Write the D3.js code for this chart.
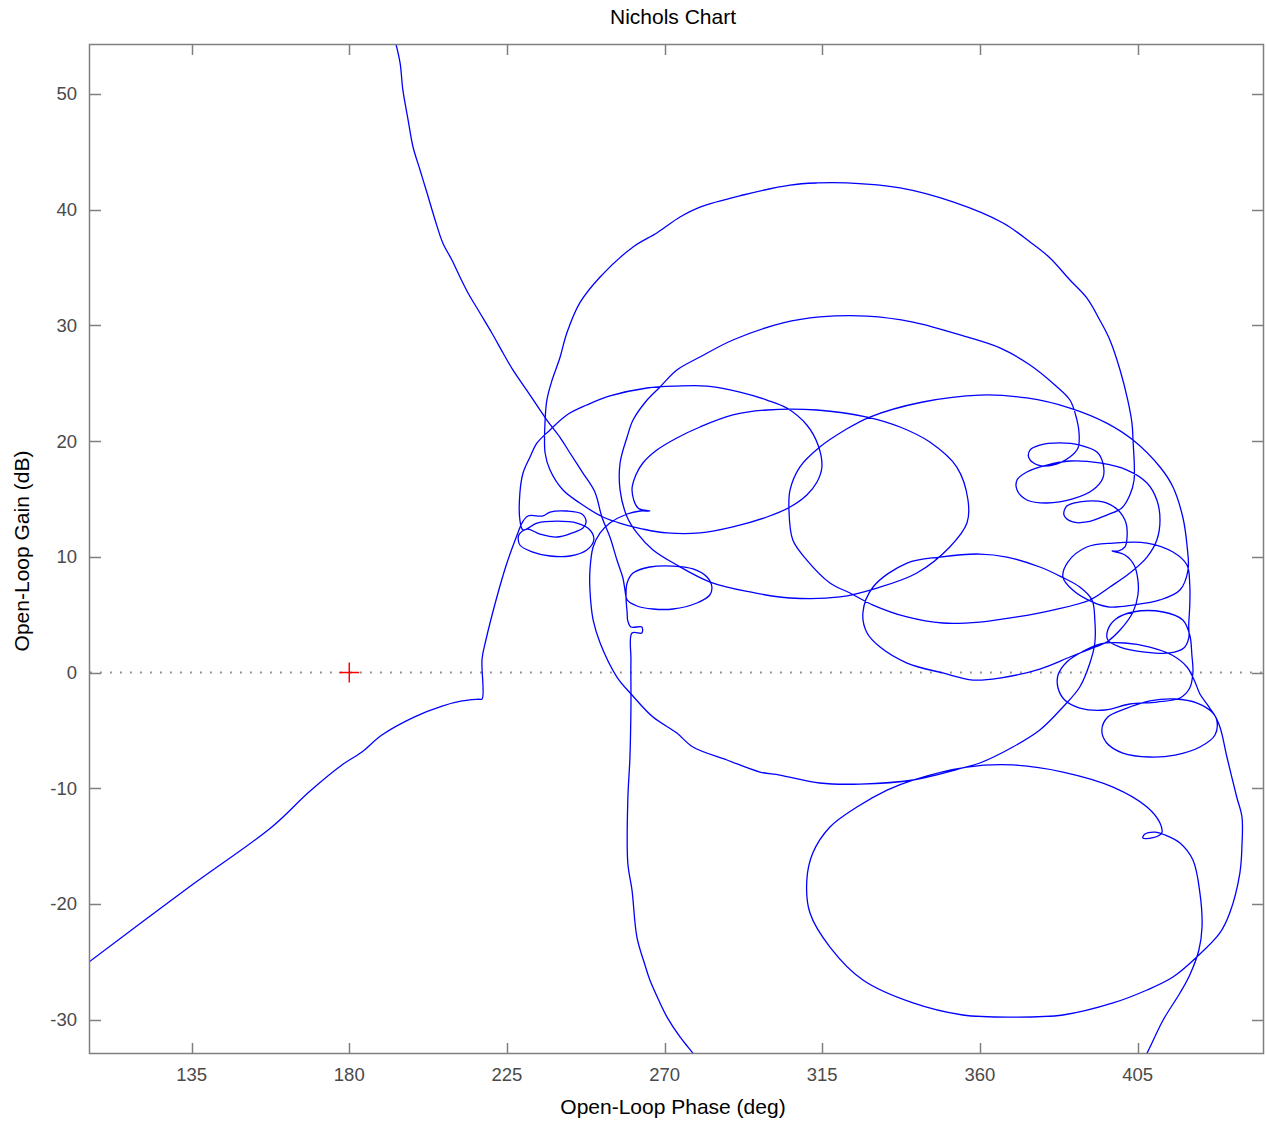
<!DOCTYPE html>
<html>
<head>
<meta charset="utf-8">
<script src="https://cdnjs.cloudflare.com/ajax/libs/d3/7.8.5/d3.min.js"></script>
<style>
  html, body { margin: 0; padding: 0; background: #ffffff; }
  svg { display: block; }
  text { font-family: "Liberation Sans", Arial, Helvetica, sans-serif; }
</style>
</head>
<body>
<svg id="chart" width="1266" height="1124"></svg>
<script>
// ---------------- data (phase in deg, gain in dB) ----------------
const phaseTicks = [135, 180, 225, 270, 315, 360, 405];
const gainTicks = [-30, -20, -10, 0, 10, 20, 30, 40, 50];
const criticalPoint = [180, 0];

// high-gain branch: enters at top, exits at bottom
const branchHigh = [[193.0,54.7],[194.5,52.68],[195.3,50.35],[196.8,47.75],[198.2,45.42],[200.2,43.43],[202.2,41.44],[204.5,39.11],[206.7,37.12],[209.3,35.65],[211.6,34.18],[213.9,32.80],[217.3,31.07],[220.7,29.34],[223.9,27.61],[226.7,26.15],[231.6,23.98],[236.4,21.82],[240.1,20.35],[243.0,18.97],[246.7,17.24],[250.1,15.60],[252.1,13.44],[254.4,11.71],[256.4,9.72],[258.1,8.17],[258.7,7.13],[259.3,6.27],
[262.1,5.75],[266.7,5.49],[272.4,5.49],[279.2,6.01],[282.9,6.70],[283.5,7.39],[282.1,8.25],[278.1,8.95],[272.4,9.20],[265.8,9.12],[261.0,8.60],[259.3,7.74],[259.0,6.44],[259.3,5.23],[259.5,4.46],
[260.4,3.93],[263.5,3.93],[263.5,3.41],[260.7,3.41],
[260.4,1.08],[260.4,-2.98],[260.1,-7.39],[259.5,-11.02],[259.5,-16.46],[260.7,-18.80],[262.1,-22.86],[264.4,-25.28],[265.8,-26.58],[268.7,-28.56],[270.7,-29.78],[274.4,-31.50],[276.7,-32.37],[279.2,-33.32]];

// low-frequency branch entering from the left
const lowBranch = [[104.5,-25.3],[134.3,-18.54],[157.9,-13.35],[168.5,-10.33],[177.9,-7.99],[183.6,-6.87],[189.3,-5.40],[198.5,-3.85],[206.5,-2.90],[212.2,-2.46],[216.8,-2.31],[217.9,-2.29],[217.9,1.17],[219.0,2.81],[221.9,6.27],[225.0,9.46],[227.9,11.88],[229.3,12.92]];

const doubleLoop = [[231.0,13.53],[235.3,13.53],[237.3,13.87],[242.1,13.96],[246.4,13.70],[247.6,13.01],[246.7,12.49],[243.6,12.06],[239.3,11.71],[234.4,11.97],[230.7,12.40],[228.4,11.88],[228.7,11.02],[232.4,10.41],[237.3,10.07],[243.0,10.07],[247.8,10.59],[249.8,11.45],[248.7,12.32],[245.0,12.92],[239.3,13.09],[233.6,12.92],[229.6,12.32],[228.7,13.18]];

const loopE2 = [[228.7,15.51],[229.6,17.24],[231.6,18.63],[233.6,19.84],[237.3,20.96],[242.1,22.26],[247.8,23.12],[254.4,23.90],[265.0,24.59],[273.5,24.76],[282.1,24.76],[291.5,24.24],[299.2,23.55],[304.9,22.86],[310.6,21.39],[313.8,19.66],[314.9,17.76],[313.5,16.46],[310.6,15.34],[305.8,14.30],[299.2,13.44],[289.5,12.58],[280.1,12.06],[270.7,12.06],[263.8,12.40],[258.1,12.83],[252.4,13.44],[245.8,14.65],[241.0,15.77],[237.3,17.50],[235.9,18.97],[235.9,21.82]];

const loopE1 = [[236.4,23.55],[237.9,25.28],[240.1,27.18],[242.1,29.34],[245.8,31.94],[251.6,34.18],[261.0,36.78],[267.8,37.99],[274.4,39.37],[280.1,40.23],[292.4,41.27],[305.8,42.13],[313.5,42.31],[322.0,42.31],[337.2,41.88],[352.3,40.67],[366.6,38.85],[374.3,37.21],[380.0,35.83],[385.7,33.92],[390.5,32.37],[394.2,30.47],[397.1,28.74],[400.0,26.15],[402.2,23.55],[403.4,21.56],[403.7,20.09],[404.0,16.64],[402.8,15.34],[400.5,14.22],[396.2,13.61],[390.5,13.01],[386.5,13.01],[384.0,13.61],[384.8,14.39],[388.5,14.74],[395.1,14.74],[399.4,14.04],[401.7,12.92],[402.0,11.71],[401.4,10.85],[399.4,10.50],[397.7,10.50]];

const spiralLower = [[401.4,10.16],[404.0,9.29],[405.1,7.99],[405.1,6.70],[403.7,5.23],[400.0,3.67],[396.2,2.64],[391.4,2.03],[385.7,1.34],[377.1,0.30],[365.7,-0.48],[358.0,-0.65],[349.4,-0.04],[339.2,0.82],[331.5,2.20],[327.8,3.41],[326.6,5.14],[329.5,7.39],[339.2,9.46],[348.6,9.98],[360.0,10.24],[367.7,9.98],[377.1,9.12],[383.4,8.25],[388.5,7.39],[392.0,6.27],[392.8,4.54],[392.8,2.55],[391.4,0.82],[388.5,-1.25],[383.7,-2.98],[377.1,-4.97],[369.4,-6.44],[360.0,-7.82],[355.1,-8.25],[340.9,-9.29],[325.8,-9.64],[314.3,-9.55],[302.9,-8.86],[297.2,-8.60],[287.8,-7.56],[278.1,-6.44],[273.5,-5.23],[266.7,-3.85],[260.7,-1.94],[256.4,-0.39],[251.6,2.55],[249.6,4.54],[248.7,7.13],[248.7,8.86],[249.6,10.85],[251.6,12.06],[254.4,12.92],[259.3,13.70],[263.0,13.96],[265.8,13.96]];

const loopP = [[262.4,14.22],[260.7,15.77],[261.8,17.07],[263.8,18.11],[267.8,19.23],[273.5,20.27],[280.1,21.22],[289.5,22.26],[299.2,22.69],[313.5,22.69],[327.8,22.08],[337.2,21.22],[345.7,19.92],[353.4,17.76],[356.6,14.91],[356.3,12.92],[351.4,10.85],[342.0,8.60],[330.6,7.30],[320.0,6.53],[305.8,6.44],[294.4,6.96],[283.0,7.82],[273.5,9.29],[266.7,10.59],[262.1,12.06],[259.3,13.44],[257.3,15.77],[257.3,18.11],[259.3,20.35],[261.0,21.82],[265.0,23.55],[268.7,24.68],[273.5,26.15]];

const arcE4 = [[280.1,27.27],[289.5,28.74],[303.8,30.21],[314.3,30.73],[327.8,30.81],[340.9,30.29],[356.3,29.00],[365.7,28.05],[374.3,26.58],[381.4,24.85],[385.7,23.55],[387.7,21.82],[388.3,20.70],[388.0,19.40],[385.7,18.63],[380.8,17.93],[376.6,17.93],[374.0,18.54],[374.3,19.23],[377.1,19.66],[382.8,19.84],[388.5,19.66],[393.4,19.06],[395.1,18.11],[395.1,16.81],[392.2,15.77],[386.5,15.00],[379.1,14.65],[373.4,14.91],[370.6,15.77],[370.6,16.64],[373.4,17.33],[379.1,17.93],[385.7,18.28],[394.2,18.11],[402.0,17.50],[407.7,16.38],[410.5,14.91],[411.4,13.18],[410.5,11.45],[407.7,9.98],[402.8,8.60],[397.1,7.39],[391.4,6.27]];

const loopE10 = [[380.8,5.40],[370.6,4.80],[360.0,4.36],[349.4,4.28],[339.2,4.80],[329.5,5.83],[322.9,6.87],[317.2,7.74],[310.6,9.72],[306.6,11.45],[305.5,14.04],[305.8,15.77],[308.6,17.76],[314.3,19.49],[321.5,20.96],[328.6,22.08],[343.7,23.38],[360.0,23.98],[373.4,23.73],[385.7,22.86],[396.2,21.56],[403.7,20.09],[411.4,17.76],[415.1,16.03],[417.9,13.44],[419.1,11.02]];

const outerLoops = [[419.4,8.86],[417.1,7.13],[411.4,6.27],[403.7,5.83],[397.1,5.66],[392.2,6.09],[386.5,7.13],[383.7,8.25],[385.1,9.55],[390.5,10.85],[398.0,11.19],[407.7,11.19],[415.1,10.41],[419.1,9.29],[419.9,7.56],[419.9,5.83],
[419.6,4.11],[419.6,2.98],[418.2,2.12],[414.2,1.69],[407.1,1.77],[400.0,2.20],[396.5,2.81],[396.5,3.67],[398.8,4.62],[403.7,5.23],[412.3,5.23],[417.9,4.54],[419.9,3.24],[420.5,1.51],
[420.8,0.04],[419.9,-1.34],[417.1,-2.20],[410.5,-2.55],[402.8,-2.72],[395.7,-3.24],[388.5,-3.07],[384.2,-2.38],[382.3,-1.34],[382.3,-0.22],[384.8,0.91],[389.1,1.77],[394.2,2.46],[401.4,2.55],[408.5,2.20],[414.8,1.51],[419.1,0.48],[421.4,-0.82],[422.8,-1.86],
[425.6,-3.07],[427.6,-4.11],[427.1,-5.40],[422.8,-6.44],[415.7,-7.13],[408.5,-7.30],[400.8,-6.96],[396.2,-6.09],[394.8,-4.97],[396.5,-3.85],[401.4,-3.15],[408.5,-2.46],[415.7,-2.29],[422.0,-2.64],[426.5,-3.50],[428.5,-4.71],[430.5,-7.30],[433.3,-10.76],[434.8,-12.49],[434.8,-14.91],[434.2,-17.33],[431.3,-20.79],[428.5,-22.51]];

const loopE6 = [[421.9,-24.59],[415.1,-26.32],[407.7,-27.44],[398.0,-28.56],[383.7,-29.60],[369.4,-29.78],[355.1,-29.60],[340.9,-28.56],[326.6,-26.58],[317.2,-23.73],[311.5,-20.79],[310.6,-17.93],[312.3,-15.60],[317.2,-13.35],[324.9,-11.62],[333.5,-10.16],[340.9,-9.29],[356.3,-8.17],[369.4,-7.99],[383.7,-8.60],[398.0,-9.90],[407.7,-11.62],[411.4,-13.01],[411.9,-13.87],[409.1,-14.30],[406.5,-14.30],[407.1,-13.96],[410.0,-13.79],[412.8,-14.04],[417.1,-14.74],[420.8,-16.21],[422.8,-19.06],[423.4,-22.00],[422.5,-23.98],[419.9,-26.14],[417.1,-27.70],[412.3,-30.03],[407.7,-32.89],[405.7,-33.92]];

// ---------------- layout ----------------
const W = 1266, H = 1124;
const plot = { left: 90, right: 1263, top: 44, bottom: 1054 };
const x = d3.scaleLinear().domain([106.0, 440.8]).range([plot.left, plot.right]);
const y = d3.scaleLinear().domain([-32.97, 54.32]).range([plot.bottom, plot.top]);

const svg = d3.select("#chart");
svg.append("rect").attr("width", W).attr("height", H).attr("fill", "#ffffff");

svg.append("defs").append("clipPath").attr("id", "clip")
  .append("rect")
  .attr("x", plot.left).attr("y", plot.top)
  .attr("width", plot.right - plot.left).attr("height", plot.bottom - plot.top);

const axisColor = "#7f7f7f";
const labelColor = "#4a4a4a";
const tickLen = 11;

// zero dB dotted line
svg.append("line")
  .attr("x1", plot.left).attr("x2", plot.right)
  .attr("y1", y(0)).attr("y2", y(0))
  .attr("stroke", "#8c8c8c").attr("stroke-width", 1.8)
  .attr("stroke-dasharray", "1.8,8.2");

// curve
const lineGen = d3.line()
  .x(d => x(d[0])).y(d => y(d[1]))
  .curve(d3.curveCatmullRom.alpha(0.5));

const chainLow = [].concat(lowBranch, doubleLoop, loopE2, loopE1, spiralLower, loopP, arcE4, loopE10, outerLoops, loopE6);
const curves = svg.append("g").attr("clip-path", "url(#clip)");
[branchHigh, chainLow].forEach(seg => {
  curves.append("path")
    .attr("d", lineGen(seg))
    .attr("fill", "none")
    .attr("stroke", "#0000ff")
    .attr("stroke-width", 1.3)
    .attr("stroke-linejoin", "round");
});

// critical point marker
const cp = svg.append("g").attr("stroke", "#ff0000").attr("stroke-width", 1.5);
cp.append("line").attr("x1", x(criticalPoint[0]) - 10).attr("x2", x(criticalPoint[0]) + 10)
  .attr("y1", y(criticalPoint[1])).attr("y2", y(criticalPoint[1]));
cp.append("line").attr("x1", x(criticalPoint[0])).attr("x2", x(criticalPoint[0]))
  .attr("y1", y(criticalPoint[1]) - 10).attr("y2", y(criticalPoint[1]) + 10);

// frame
svg.append("rect")
  .attr("x", plot.left - 0.5).attr("y", plot.top + 0.5)
  .attr("width", plot.right - plot.left + 1).attr("height", plot.bottom - plot.top - 1)
  .attr("fill", "none").attr("stroke", axisColor).attr("stroke-width", 1.5);

// ticks (inward, all four sides)
const tk = svg.append("g").attr("stroke", axisColor).attr("stroke-width", 1.5);
phaseTicks.forEach(p => {
  const px = Math.round(x(p)) + 0.5;
  tk.append("line").attr("x1", px).attr("x2", px).attr("y1", plot.bottom).attr("y2", plot.bottom - tickLen);
  tk.append("line").attr("x1", px).attr("x2", px).attr("y1", plot.top).attr("y2", plot.top + tickLen);
});
gainTicks.forEach(g => {
  const py = Math.round(y(g)) + 0.5;
  tk.append("line").attr("x1", plot.left).attr("x2", plot.left + tickLen).attr("y1", py).attr("y2", py);
  tk.append("line").attr("x1", plot.right).attr("x2", plot.right - tickLen).attr("y1", py).attr("y2", py);
});

// tick labels
svg.append("g").selectAll("text").data(phaseTicks).join("text")
  .attr("x", d => x(d)).attr("y", 1081)
  .attr("text-anchor", "middle")
  .attr("font-size", 18.5).attr("fill", labelColor)
  .text(d => d);
svg.append("g").selectAll("text").data(gainTicks).join("text")
  .attr("x", 77).attr("y", d => y(d) + 6.5)
  .attr("text-anchor", "end")
  .attr("font-size", 18.5).attr("fill", labelColor)
  .text(d => d);

// titles
svg.append("text").attr("x", 673).attr("y", 24).attr("text-anchor", "middle")
  .attr("font-size", 21).attr("fill", "#000").text("Nichols Chart");
svg.append("text").attr("x", 673).attr("y", 1114).attr("text-anchor", "middle")
  .attr("font-size", 21).attr("fill", "#000").text("Open-Loop Phase (deg)");
svg.append("text").attr("transform", "translate(29,551) rotate(-90)").attr("text-anchor", "middle")
  .attr("font-size", 21).attr("fill", "#000").text("Open-Loop Gain (dB)");
</script>
</body>
</html>
